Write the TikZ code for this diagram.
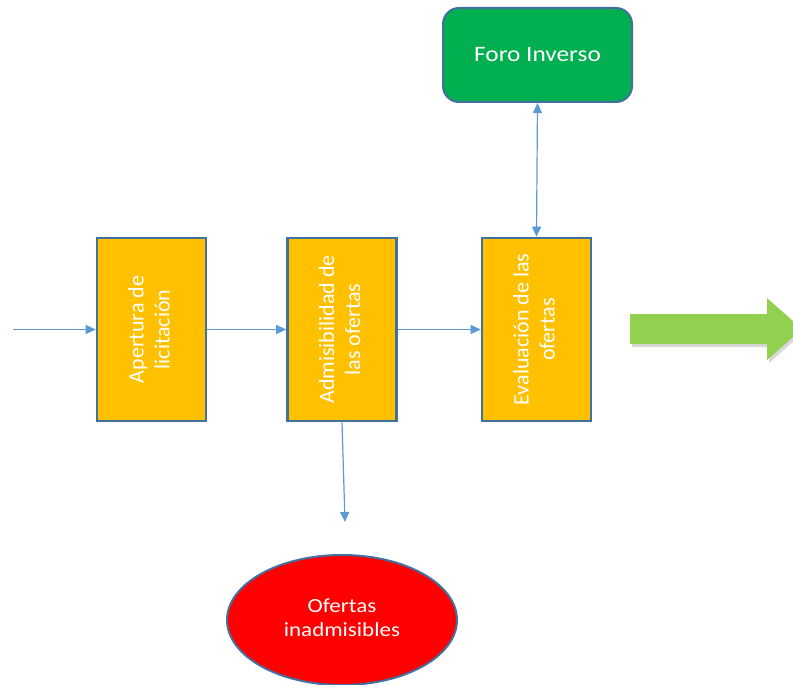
\documentclass[tikz,border=0pt]{standalone}
\usepackage{fontspec}
\setmainfont{Carlito}
\usetikzlibrary{arrows.meta,shapes.geometric,shadows}
\definecolor{boxfill}{HTML}{FFC000}
\definecolor{boxline}{HTML}{41719C}
\definecolor{connline}{HTML}{5B9BD5}
\definecolor{forofill}{HTML}{00B050}
\definecolor{redfill}{HTML}{FF0000}
\definecolor{arrowgreen}{HTML}{92D050}
\newcommand{\hstretch}[1]{\scalebox{1.15}[1]{#1}}
\begin{document}
\begin{tikzpicture}[x=1pt,y=-1pt,
  stepbox/.style={draw=boxline, line width=2.6pt, fill=boxfill, minimum width=109pt, minimum height=183pt, inner sep=0pt, text=white, font=\fontsize{22}{26}\selectfont},
  forobox/.style={draw=boxline, line width=2pt, fill=forofill, rounded corners=16pt, minimum width=189pt, minimum height=94pt, inner sep=0pt, text=white, font=\fontsize{22}{26}\selectfont},
  redell/.style={ellipse, draw=boxline, line width=2pt, fill=redfill, minimum width=230pt, minimum height=130pt, inner sep=0pt, text=white, font=\fontsize{20}{24}\selectfont},
  conn/.style={draw=connline, line width=1.2pt, -{Triangle[length=10pt,width=9pt]}},
  dconn/.style={draw=connline, line width=1.2pt, {Triangle[length=10pt,width=9pt]}-{Triangle[length=10pt,width=9pt]}}
]
\useasboundingbox[fill=white] (0,0) rectangle (793,685);
\node[stepbox] (b1) at (151.5,329.5) {\rotatebox{90}{\begin{tabular}{@{}c@{}}Apertura de\\licitación\end{tabular}}};
\node[stepbox] (b2) at (342,329.5) {\rotatebox{90}{\begin{tabular}{@{}c@{}}Admisibilidad de\\las ofertas\end{tabular}}};
\node[stepbox] (b3) at (536.5,329.5) {\rotatebox{90}{\begin{tabular}{@{}c@{}}Evaluación de las\\ofertas\end{tabular}}};
\node[forobox] (f) at (537.5,55) {\hstretch{Foro Inverso}};
\node[redell] (e) at (342,620) {\hstretch{\begin{tabular}{@{}c@{}}Ofertas\\inadmisibles\end{tabular}}};
\coordinate (in) at (13,329.5);
\coordinate (down) at (345,522);
\draw[conn] (in) -- (b1.west);
\draw[conn] (b1.east) -- (b2.west);
\draw[conn] (b2.east) -- (b3.west);
\draw[conn] (b2.south) -- (down);
\draw[dconn] (f.south) -- (b3.north);
\fill[arrowgreen, drop shadow={opacity=0.3, shadow xshift=2pt, shadow yshift=-3pt}]
  (630,314) -- (767,314) -- (767,298) -- (802,329) -- (767,360) -- (767,344) -- (630,344) -- cycle;
\end{tikzpicture}
\end{document}
